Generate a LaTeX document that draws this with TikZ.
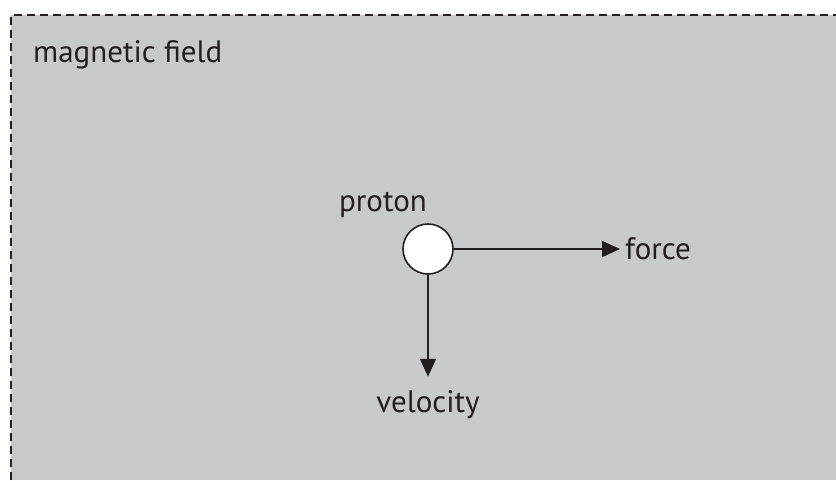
\documentclass[tikz,border=0pt]{standalone}
\usepackage{fontspec}
\setmainfont{PT Sans}
\usetikzlibrary{arrows.meta,positioning}
\definecolor{fieldgray}{RGB}{200,201,203}
\definecolor{inkblack}{RGB}{35,31,32}

\begin{document}
\begin{tikzpicture} [x=1pt, y=1pt,
				particle/.style={
				% The shape:
				circle,
				% The size:
				minimum size=50pt, inner sep=0pt,
				% The border:
				draw=inkblack, line width=1.6pt,
				% The filling:
				fill=white
				},
				tag/.style={
				% The text:
				font=\fontsize{31}{36}\selectfont,
				text=inkblack, inner sep=2pt
				},
				vector/.style={
				draw=inkblack, line width=2pt,
				-{Triangle[length=18pt,width=16pt]}
				},
				]
    \useasboundingbox (0,0) rectangle (836,480);
    % the field region
    \fill [fieldgray] (11,0) rectangle (836,465);
    \draw [inkblack, line width=2pt, dash pattern=on 8pt off 5pt] (11,0) -- (11,465) -- (836,465);
    \node [tag, anchor=base west] (field) at (31,417) {magnetic field};
    % the particle and its vectors
    \node [particle] (proton) at (428,231) {};
    \node [tag, above=3pt of proton, xshift=-45pt] (plabel) {proton};
    \node [tag, anchor=west, inner xsep=5pt] (force) at (620,231) {force};
    \node [tag, below=114pt of proton] (velocity) {velocity};
    \draw [vector] (proton) -- (force);
    \draw [vector, shorten >=12pt] (proton) -- (velocity);
\end{tikzpicture}
\end{document}
